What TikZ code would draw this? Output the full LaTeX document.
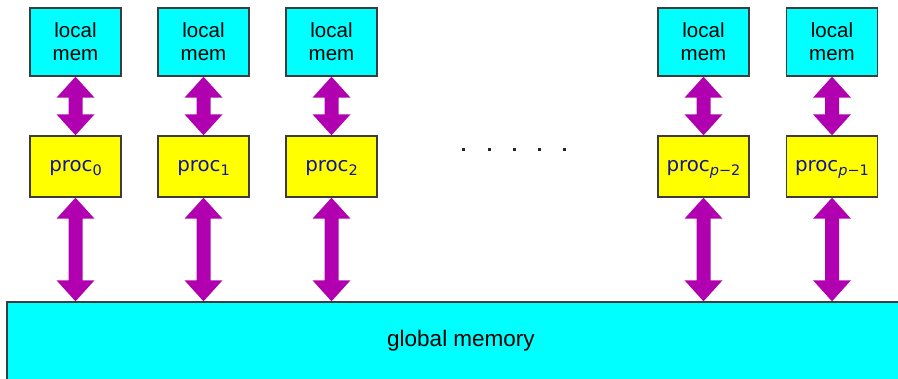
\documentclass[tikz,border=0pt]{standalone}
\usepackage{fontspec}
\setmainfont{Liberation Sans}
\newfontfamily\procfont{DejaVu Sans}
\usetikzlibrary{calc}
\definecolor{memcyan}{RGB}{0,255,255}
\definecolor{procyellow}{RGB}{255,255,0}
\definecolor{arrowmag}{RGB}{176,0,176}
\definecolor{procblue}{RGB}{20,20,150}
\definecolor{edgegray}{RGB}{60,60,60}
\tikzset{
  memnode/.style={draw=edgegray, line width=1.4pt, fill=memcyan,
    minimum width=91pt, minimum height=68pt, inner sep=0pt, align=center,
    font=\fontsize{20.5}{23}\selectfont},
  procnode/.style={draw=edgegray, line width=1.4pt, fill=procyellow,
    minimum width=91pt, minimum height=61pt, inner sep=0pt,
    text height=13pt, text depth=3pt, text=procblue,
    font=\procfont\fontsize{19.8}{22}\selectfont},
  globalnode/.style={draw=edgegray, line width=1.4pt, fill=memcyan,
    minimum width=908pt, minimum height=78pt, inner sep=0pt,
    font=\fontsize{22.5}{26}\selectfont},
  busfill/.style={fill=arrowmag},
  dotmark/.style={fill=black!85}
}
\newcommand\psub[1]{\raisebox{-4.5pt}{\fontsize{14.5}{16}\selectfont #1}}
% double-headed block arrow from the bottom of #1 to the top of #2 (x of #1)
\newcommand\busarrow[2]{%
  \fill[busfill] let \p1=(#1.south), \p2=(#2.north) in
    (\x1,\y1) -- (\x1+19pt,\y1-21pt) -- (\x1+7pt,\y1-21pt)
    -- (\x1+7pt,\y2+21pt) -- (\x1+19pt,\y2+21pt) -- (\x1,\y2)
    -- (\x1-19pt,\y2+21pt) -- (\x1-7pt,\y2+21pt)
    -- (\x1-7pt,\y1-21pt) -- (\x1-19pt,\y1-21pt) -- cycle;}
\begin{document}
\begin{tikzpicture}[x=1pt,y=1pt]
\useasboundingbox (0,0) rectangle (898,378);
\fill[white] (0,0) rectangle (898,378);

\node[globalnode] (gm) at (461,37) {global memory};

\node[memnode] (m0) at (75.5,336) {local\\mem};
\node[memnode] (m1) at (203.5,336) {local\\mem};
\node[memnode] (m2) at (331.5,336) {local\\mem};
\node[memnode] (m3) at (703.5,336) {local\\mem};
\node[memnode] (m4) at (832,336) {local\\mem};

\node[procnode] (p0) at (75.5,211.5) {proc\psub{0}};
\node[procnode] (p1) at (203.5,211.5) {proc\psub{1}};
\node[procnode] (p2) at (331.5,211.5) {proc\psub{2}};
\node[procnode] (p3) at (703.5,211.5) {proc\psub{\itshape p\upshape −2}};
\node[procnode] (p4) at (832,211.5) {proc\psub{\itshape p\upshape −1}};

\foreach \i in {0,...,4}{
  \busarrow{m\i}{p\i}
  \busarrow{p\i}{gm}
}

\foreach \x in {463,489,514,539,564}
  \fill[dotmark] (\x-1.5,226.5) rectangle (\x+1.5,229.5);
\end{tikzpicture}
\end{document}
